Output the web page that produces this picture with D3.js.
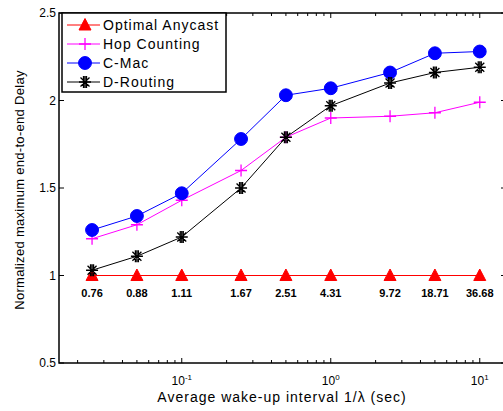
<!DOCTYPE html>
<html>
<head>
<meta charset="utf-8">
<script src="https://cdn.jsdelivr.net/npm/d3@7"></script>
<style>
  body { margin: 0; background: #fff; }
  svg { display: block; font-family: "Liberation Sans", Arial, sans-serif; }
</style>
</head>
<body>
<svg id="chart"></svg>
<script>
// donnees
const intervals = [0.025, 0.05, 0.1, 0.25, 0.5, 1, 2.5, 5, 10]
const pointLabels = ['0.76', '0.88', '1.11', '1.67', '2.51', '4.31', '9.72', '18.71', '36.68']
const optimalAnycast = [1, 1, 1, 1, 1, 1, 1, 1, 1]
const hopCounting = [1.21, 1.29, 1.43, 1.60, 1.79, 1.90, 1.91, 1.93, 1.99]
const cMac = [1.26, 1.34, 1.47, 1.78, 2.03, 2.07, 2.16, 2.27, 2.28]
const dRouting = [1.03, 1.11, 1.22, 1.50, 1.79, 1.97, 2.10, 2.16, 2.19]
const yTicks = [0.5, 1, 1.5, 2, 2.5]
const xTicks = [0.1, 1, 10]
const xTickExp = ['-1', '0', '1']

const width = 503, height = 411
const margin = {top: 13, right: -3, bottom: 48, left: 59}

const svg = d3.select('#chart').attr('width', width).attr('height', height)

const xScale = d3.scaleLog().domain([0.015, 15]).range([margin.left, width - margin.right])
const yScale = d3.scaleLinear().domain([0.5, 2.5]).range([height - margin.bottom, margin.top])

const x0 = xScale.range()[0], x1 = xScale.range()[1]
const y0 = yScale.range()[0], y1 = yScale.range()[1]

// ticks mineurs (2..9 par decade)
let minorTicks = []
for (let d = 0.01; d <= 10; d *= 10) {
  for (let k = 2; k <= 9; k++) {
    const v = +(d * k).toPrecision(3)
    if (v > 0.015 && v < 15) minorTicks.push(v)
  }
}

const series = [
  {name: 'Optimal Anycast', values: optimalAnycast, color: '#ff0000', marker: 'triangle'},
  {name: 'Hop Counting', values: hopCounting, color: '#ff00ff', marker: 'plus'},
  {name: 'C-Mac', values: cMac, color: '#0000ff', marker: 'circle'},
  {name: 'D-Routing', values: dRouting, color: '#000000', marker: 'star'}
]

const markerPath = (type) => {
  if (type === 'triangle') return 'M0,-6.5L6,5L-6,5Z'
  if (type === 'circle') return d3.symbol(d3.symbolCircle, 130)()
  if (type === 'plus') return 'M-6,0H6M0,-6V6'
  return 'M-6,0H6M0,-6V6M-4.5,-4.5L4.5,4.5M-4.5,4.5L4.5,-4.5M-1.5,-6V6M1.5,-6V6'
}

const drawMarker = (g, type, color) => {
  const filled = type === 'triangle' || type === 'circle'
  g.append('path')
   .attr('d', markerPath(type))
   .attr('fill', filled ? color : 'none')
   .attr('stroke', color)
   .attr('stroke-width', filled ? 1 : 1.3)
}

// boite de l'axe
svg.append('rect')
   .attr('x', x0).attr('y', y1)
   .attr('width', x1 - x0).attr('height', y0 - y1)
   .attr('fill', 'none').attr('stroke', '#000').attr('stroke-width', 1.5)

// ticks x (haut et bas, vers l'interieur)
const ticks = svg.append('g').attr('stroke', '#000').attr('stroke-width', 1)
xTicks.forEach(t => {
  ticks.append('line').attr('x1', xScale(t)).attr('x2', xScale(t)).attr('y1', y0).attr('y2', y0 - 5)
  ticks.append('line').attr('x1', xScale(t)).attr('x2', xScale(t)).attr('y1', y1).attr('y2', y1 + 5)
})
minorTicks.forEach(t => {
  ticks.append('line').attr('x1', xScale(t)).attr('x2', xScale(t)).attr('y1', y0).attr('y2', y0 - 3)
  ticks.append('line').attr('x1', xScale(t)).attr('x2', xScale(t)).attr('y1', y1).attr('y2', y1 + 3)
})
yTicks.forEach(t => {
  ticks.append('line').attr('x1', x0).attr('x2', x0 + 5).attr('y1', yScale(t)).attr('y2', yScale(t))
  ticks.append('line').attr('x1', x1).attr('x2', x1 - 5).attr('y1', yScale(t)).attr('y2', yScale(t))
})

// etiquettes des ticks
svg.selectAll('.ylab')
   .data(yTicks)
   .enter()
   .append('text')
   .attr('x', x0 - 3)
   .attr('y', d => yScale(d) + 4)
   .attr('text-anchor', 'end')
   .style('font-size', '12px')
   .text(d => d === 1 || d === 2 ? d : d.toFixed(1))

xTicks.forEach((t, i) => {
  const txt = svg.append('text')
     .attr('x', xScale(t))
     .attr('y', y0 + 22)
     .attr('text-anchor', 'middle')
     .style('font-size', '12px')
  txt.append('tspan').text('10')
  txt.append('tspan').attr('dy', -5).style('font-size', '8px').text(xTickExp[i])
})

// courbes
const line = d3.line()
  .x((d, i) => xScale(intervals[i]))
  .y(d => yScale(d))

series.forEach(s => {
  svg.append('path')
     .datum(s.values)
     .attr('d', line)
     .attr('fill', 'none')
     .attr('stroke', s.color)
     .attr('stroke-width', 1)
  s.values.forEach((v, i) => {
    const g = svg.append('g').attr('transform', 'translate(' + xScale(intervals[i]) + ',' + yScale(v) + ')')
    drawMarker(g, s.marker, s.color)
  })
})

// etiquettes des points
svg.selectAll('.plab')
   .data(pointLabels)
   .enter()
   .append('text')
   .attr('x', (d, i) => xScale(intervals[i]))
   .attr('y', yScale(1) + 21)
   .attr('text-anchor', 'middle')
   .style('font-size', '11px')
   .style('font-weight', 'bold')
   .text(d => d)

// titres des axes
svg.append('text')
   .attr('x', 282)
   .attr('y', height - 9)
   .attr('text-anchor', 'middle')
   .style('font-size', '14px')
   .style('letter-spacing', '1px')
   .text('Average wake-up interval 1/\u03bb (sec)')

svg.append('text')
   .attr('transform', 'rotate(-90)')
   .attr('x', -(y0 + y1) / 2 - 2)
   .attr('y', 24)
   .attr('text-anchor', 'middle')
   .style('font-size', '13px')
   .style('letter-spacing', '0.3px')
   .text('Normalized maximum end-to-end Delay')

// legende
const legend = svg.append('g').attr('transform', 'translate(62,13)')
legend.append('rect')
      .attr('width', 164).attr('height', 79)
      .attr('fill', '#fff').attr('stroke', '#000').attr('stroke-width', 1.5)
series.forEach((s, i) => {
  const yy = 12 + i * 19
  legend.append('line')
        .attr('x1', 5).attr('x2', 38).attr('y1', yy).attr('y2', yy)
        .attr('stroke', s.color).attr('stroke-width', 1)
  const g = legend.append('g').attr('transform', 'translate(23,' + yy + ')')
  drawMarker(g, s.marker, s.color)
  legend.append('text')
        .attr('x', 41).attr('y', yy + 5)
        .style('font-size', '14px')
        .style('letter-spacing', '1px')
        .text(s.name)
})
</script>
</body>
</html>
